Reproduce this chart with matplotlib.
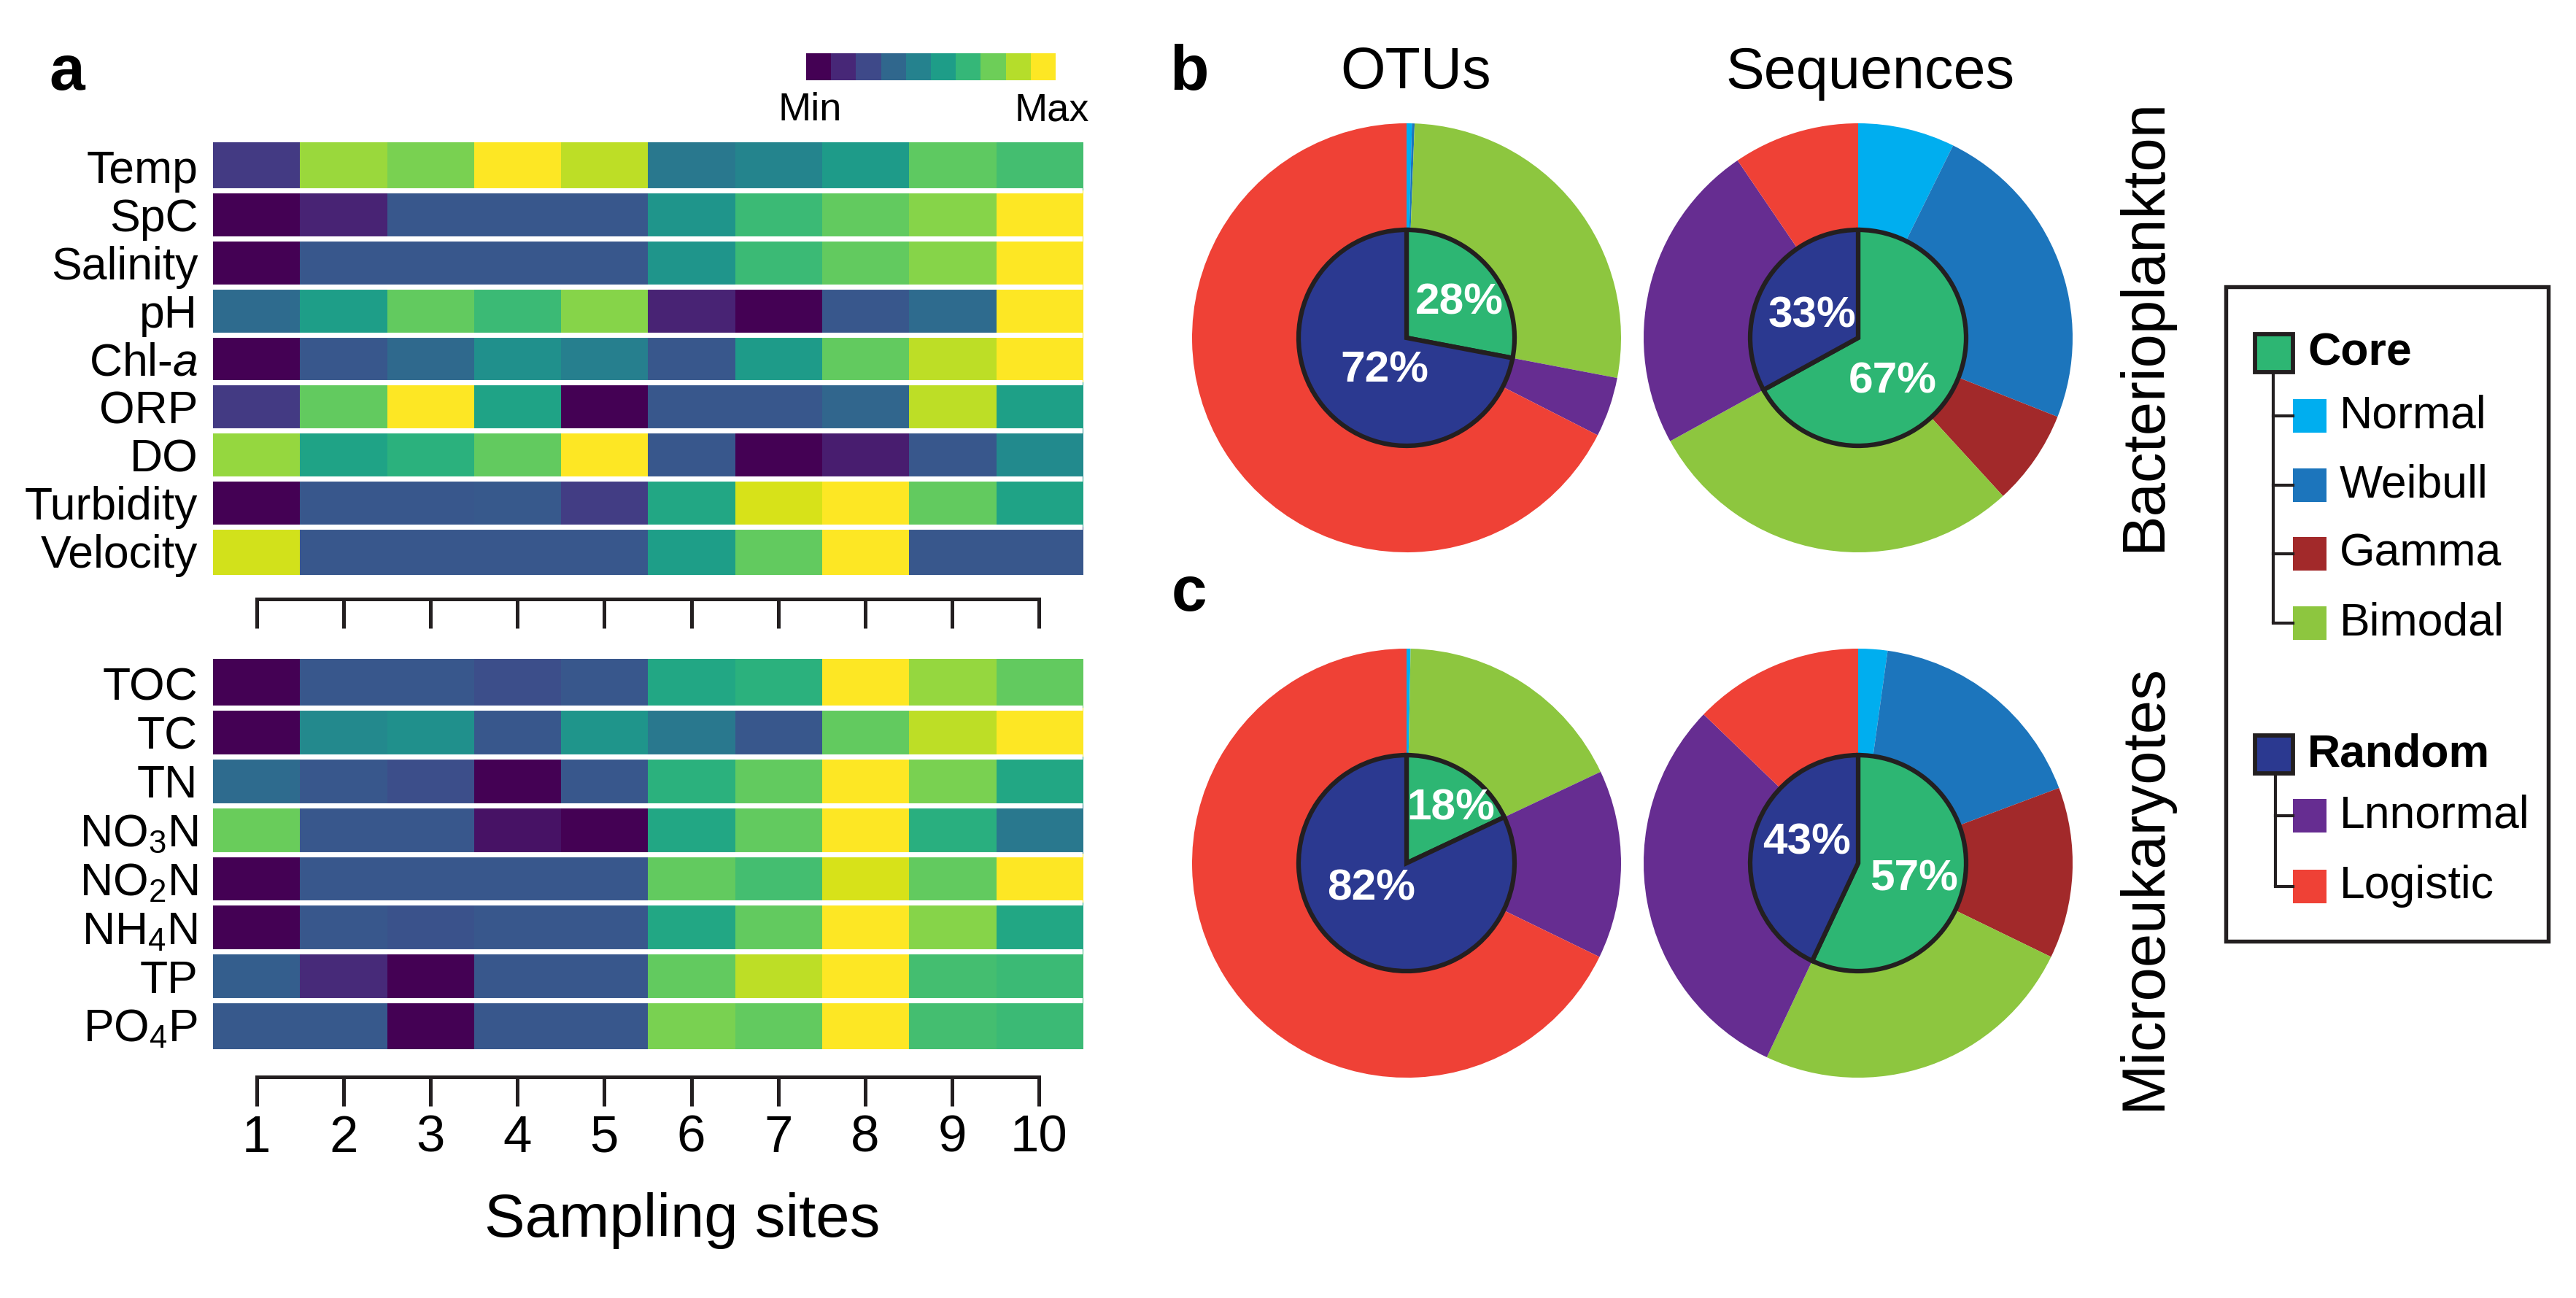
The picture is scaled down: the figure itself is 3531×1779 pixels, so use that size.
import numpy as np
import matplotlib
matplotlib.use('Agg')
import matplotlib.pyplot as plt
from matplotlib.patches import Rectangle
from matplotlib.colors import ListedColormap

plt.rcParams['font.family'] = ['Liberation Sans', 'DejaVu Sans']
plt.rcParams['mathtext.fontset'] = 'custom'
plt.rcParams['mathtext.rm'] = 'Liberation Sans'
plt.rcParams['mathtext.it'] = 'Liberation Sans:italic'

# ---------------- donnees ----------------
sites = [1, 2, 3, 4, 5, 6, 7, 8, 9, 10]

phys_rows = ['Temp', 'SpC', 'Salinity', 'pH', 'Chl-$\\mathit{a}$', 'ORP', 'DO', 'Turbidity', 'Velocity']
phys_vals = [
    [0.17, 0.85, 0.80, 1.00, 0.90, 0.40, 0.45, 0.55, 0.75, 0.70],
    [0.00, 0.10, 0.27, 0.27, 0.27, 0.52, 0.68, 0.76, 0.82, 1.00],
    [0.00, 0.27, 0.27, 0.27, 0.27, 0.52, 0.68, 0.76, 0.82, 1.00],
    [0.35, 0.56, 0.76, 0.68, 0.82, 0.10, 0.00, 0.27, 0.35, 1.00],
    [0.00, 0.27, 0.34, 0.50, 0.43, 0.27, 0.55, 0.76, 0.90, 1.00],
    [0.17, 0.76, 1.00, 0.58, 0.00, 0.27, 0.27, 0.33, 0.90, 0.57],
    [0.84, 0.58, 0.64, 0.76, 1.00, 0.27, 0.00, 0.08, 0.27, 0.48],
    [0.00, 0.27, 0.27, 0.28, 0.18, 0.60, 0.94, 1.00, 0.76, 0.58],
    [0.93, 0.27, 0.27, 0.27, 0.27, 0.56, 0.76, 1.00, 0.27, 0.27],
]

nutr_rows = ['TOC', 'TC', 'TN', 'NO$_3$N', 'NO$_2$N', 'NH$_4$N', 'TP', 'PO$_4$P']
nutr_vals = [
    [0.00, 0.27, 0.27, 0.24, 0.27, 0.60, 0.64, 1.00, 0.84, 0.76],
    [0.00, 0.47, 0.50, 0.27, 0.52, 0.40, 0.27, 0.76, 0.90, 1.00],
    [0.35, 0.27, 0.24, 0.00, 0.27, 0.64, 0.76, 1.00, 0.80, 0.60],
    [0.77, 0.27, 0.27, 0.05, 0.00, 0.60, 0.76, 1.00, 0.63, 0.40],
    [0.00, 0.27, 0.27, 0.27, 0.27, 0.76, 0.70, 0.94, 0.76, 1.00],
    [0.00, 0.27, 0.25, 0.27, 0.27, 0.60, 0.76, 1.00, 0.82, 0.60],
    [0.30, 0.12, 0.00, 0.27, 0.27, 0.76, 0.90, 1.00, 0.70, 0.68],
    [0.28, 0.28, 0.00, 0.27, 0.27, 0.80, 0.76, 1.00, 0.70, 0.68],
]

groupes = ['Core', 'Random']
distributions = ['Normal', 'Weibull', 'Gamma', 'Bimodal', 'Lnnormal', 'Logistic']

# % du coeur (Core) puis aleatoire (Random)
bact_otu_inner = [28, 72]
bact_seq_inner = [67, 33]
micro_otu_inner = [18, 82]
micro_seq_inner = [57, 43]

# anneau exterieur, ordre = distributions
bact_otu_outer = [0.4, 0.2, 0.0, 27.4, 4.5, 67.5]
bact_seq_outer = [7.3, 23.7, 7.2, 28.8, 23.5, 9.5]
micro_otu_outer = [0.3, 0.0, 0.0, 17.7, 14.2, 67.8]
micro_seq_outer = [2.2, 17.1, 12.9, 24.8, 30.2, 12.8]

# ---------------- styles ----------------
col_groupes = ['#2DB673', '#2B3990']
col_dist = ['#00AEEF', '#1C75BC', '#A2292A', '#8DC63F', '#662D91', '#EF4136']
noir = '#231F20'

W, H = 3531, 1779
DPI = 300
fig = plt.figure(figsize=(W / DPI, H / DPI), dpi=DPI)


def px_axes(x0, y0, x1, y1):
    # axes a partir de coordonnees pixels (origine en haut a gauche)
    return fig.add_axes([x0 / W, 1 - y1 / H, (x1 - x0) / W, (y1 - y0) / H])


def dessinerHeatmap(ax, vals, rows, off_pt):
    data = np.array(vals)
    ax.imshow(data, cmap='viridis', vmin=0, vmax=1, aspect='auto',
              extent=(0.5, 10.5, len(rows) - 0.5, -0.5), interpolation='nearest')
    for k in range(1, len(rows)):
        ax.axhline(k - 0.5, color='white', lw=1.7)
    ax.set_yticks(range(len(rows)))
    ax.set_yticklabels(rows, fontsize=15)
    ax.tick_params(axis='y', length=0, pad=5)
    ax.set_xticks(sites)
    ax.tick_params(axis='x', direction='out', length=9.5, width=1.2, color=noir)
    for s in ['top', 'right', 'left']:
        ax.spines[s].set_visible(False)
    ax.spines['bottom'].set_position(('outward', off_pt))
    ax.spines['bottom'].set_bounds(1, 10)
    ax.spines['bottom'].set_linewidth(1.2)
    ax.spines['bottom'].set_color(noir)
    ax.set_xlim(0.5, 10.5)


ax_top = px_axes(292, 195, 1484, 788)
dessinerHeatmap(ax_top, phys_vals, phys_rows, 8.0)
ax_top.set_xticklabels([])

ax_bot = px_axes(292, 903, 1484, 1438)
dessinerHeatmap(ax_bot, nutr_vals, nutr_rows, 9.0)
ax_bot.set_xticklabels([str(s) for s in sites], fontsize=17)
ax_bot.tick_params(axis='x', pad=3)

# barre de couleurs Min/Max
ax_cb = px_axes(1105, 73, 1447, 110)
ax_cb.imshow(np.arange(10).reshape(1, -1), cmap=ListedColormap(plt.cm.viridis(np.linspace(0, 1, 10))),
             aspect='auto')
ax_cb.axis('off')


def dessinerPie(cx, cy, inner, outer):
    R = 294
    half = 320
    ax = px_axes(cx - half, cy - half, cx + half, cy + half)
    ax.pie(outer, radius=1, colors=col_dist, startangle=90, counterclock=False,
           wedgeprops=dict(linewidth=0))
    ax.pie(inner, radius=148 / R, colors=col_groupes, startangle=90, counterclock=False,
           wedgeprops=dict(edgecolor=noir, linewidth=1.5))
    ax.set_xlim(-half / R, half / R)
    ax.set_ylim(-half / R, half / R)
    ax.set_aspect('equal')
    ax.axis('off')
    return ax


pies = [
    (1928, 463, bact_otu_inner, bact_otu_outer, [(0.245, 0.163), (-0.102, -0.153)]),
    (2547, 463, bact_seq_inner, bact_seq_outer, [(0.160, -0.204), (-0.214, 0.102)]),
    (1928, 1183, micro_otu_inner, micro_otu_outer, [(0.207, 0.255), (-0.163, -0.119)]),
    (2547, 1183, micro_seq_inner, micro_seq_outer, [(0.262, -0.075), (-0.238, 0.095)]),
]
for cx, cy, inner, outer, pos in pies:
    ax = dessinerPie(cx, cy, inner, outer)
    for v, (dx, dy) in zip(inner, pos):
        ax.text(dx, dy, f'{v}%', color='white', fontsize=14.5, fontweight='bold',
                ha='center', va='center')

# ---------------- textes et legende (pixels) ----------------
ov = fig.add_axes([0, 0, 1, 1])
ov.set_xlim(0, W)
ov.set_ylim(H, 0)
ov.axis('off')

ov.text(92, 101, 'a', fontsize=21, fontweight='bold', ha='center', va='center')
ov.text(1630, 101, 'b', fontsize=21, fontweight='bold', ha='center', va='center')
ov.text(1630, 815, 'c', fontsize=21, fontweight='bold', ha='center', va='center')
ov.text(1110, 151, 'Min', fontsize=13, ha='center', va='center')
ov.text(1442, 151, 'Max', fontsize=13, ha='center', va='center')
ov.text(1941, 101, 'OTUs', fontsize=19, ha='center', va='center')
ov.text(2563, 101, 'Sequences', fontsize=19, ha='center', va='center')
ov.text(935, 1673, 'Sampling sites', fontsize=20, ha='center', va='center')
ov.text(2939, 446, 'Bacterioplankton', fontsize=20, rotation=90, ha='center', va='center')
ov.text(2939, 1216, 'Microeukaryotes', fontsize=20, rotation=90, ha='center', va='center')

ov.add_patch(Rectangle((3051, 393), 442, 897, fill=False, edgecolor=noir, lw=1.3))

legende = [
    (groupes[0], col_groupes[0], 484, distributions[:4], col_dist[:4], [570, 665, 759, 854], 3116),
    (groupes[1], col_groupes[1], 1034, distributions[4:], col_dist[4:], [1118, 1215], 3119),
]
for nom, c, y0, enfants, cols, ys, xl in legende:
    ov.add_patch(Rectangle((3091, y0 - 26), 52, 52, facecolor=c, edgecolor=noir, lw=1.4))
    ov.text(3163, y0, nom, fontsize=15, fontweight='bold', ha='left', va='center')
    ov.plot([xl, xl], [y0 + 26, ys[-1]], color=noir, lw=1.0, solid_capstyle='butt')
    for e, ce, y in zip(enfants, cols, ys):
        ov.plot([xl, 3143], [y, y], color=noir, lw=1.0)
        ov.add_patch(Rectangle((3143, y - 23), 46, 46, facecolor=ce, edgecolor='none'))
        ov.text(3207, y, e, fontsize=15, ha='left', va='center')

fig.savefig('out.png', dpi=DPI, facecolor='white')
